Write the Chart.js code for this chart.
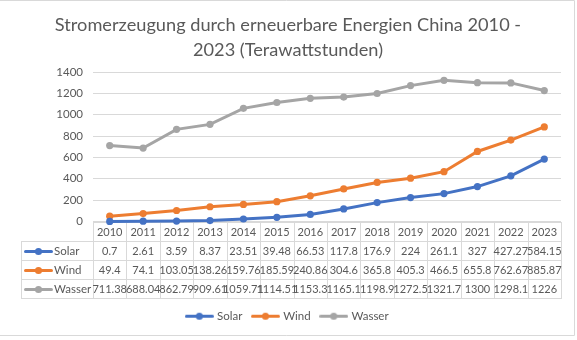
<!DOCTYPE html>
<html><head><meta charset="utf-8">
<script src="https://cdn.jsdelivr.net/npm/chart.js@4/dist/chart.umd.min.js"></script>
<style>html,body{margin:0;padding:0;background:#fff}#wrap{width:577px;height:340px;position:relative}</style>
</head><body><div id="wrap"><canvas id="c" width="577" height="340"></canvas></div>
<script>
const titleLines = ['Stromerzeugung durch erneuerbare Energien China 2010 -', '2023 (Terawattstunden)'];
const years = ['2010','2011','2012','2013','2014','2015','2016','2017','2018','2019','2020','2021','2022','2023'];
const solar = [0.7, 2.61, 3.59, 8.37, 23.51, 39.48, 66.53, 117.8, 176.9, 224, 261.1, 327, 427.27, 584.15];
const wind = [49.4, 74.1, 103.05, 138.26, 159.76, 185.59, 240.86, 304.6, 365.8, 405.3, 466.5, 655.8, 762.67, 885.87];
const wasser = [711.38, 688.04, 862.79, 909.61, 1059.71, 1114.51, 1153.3, 1165.1, 1198.9, 1272.5, 1321.7, 1300, 1298.1, 1226];
const seriesNames = ['Solar', 'Wind', 'Wasser'];
const yTicks = [0, 200, 400, 600, 800, 1000, 1200, 1400];

const colors = ['#4472C4', '#ED7D31', '#A5A5A5'];
const textColor = '#595959';
const gridColor = '#D9D9D9';
const FONT = 'Lato, "Open Sans", sans-serif';

function keyCanvas(color) {
  const c = document.createElement('canvas');
  c.width = 29; c.height = 9;
  const g = c.getContext('2d');
  g.strokeStyle = color; g.lineWidth = 3; g.lineCap = 'round';
  g.beginPath(); g.moveTo(1.5, 4.5); g.lineTo(27.5, 4.5); g.stroke();
  g.fillStyle = color;
  g.beginPath(); g.arc(14.5, 4.5, 3.6, 0, Math.PI * 2); g.fill();
  return c;
}
const keys = colors.map(keyCanvas);

const ROW_H = 19;
const TABLE_LEFT = 21;

const tablePlugin = {
  id: 'dataTable',
  beforeDatasetsDraw(chart) {
    const ctx = chart.ctx;
    const {left, right, bottom} = chart.chartArea;
    const xs = chart.scales.x;
    const n = years.length;
    const cw = (right - left) / n;
    const r = v => Math.round(v) + 0.5;
    const b = Math.round(bottom);
    ctx.save();
    ctx.strokeStyle = gridColor; ctx.lineWidth = 1;
    ctx.beginPath();
    ctx.moveTo(left, b + 0.5); ctx.lineTo(right, b + 0.5);
    for (let k = 1; k <= 4; k++) { ctx.moveTo(TABLE_LEFT, b + k * ROW_H + 0.5); ctx.lineTo(right, b + k * ROW_H + 0.5); }
    for (let i = 0; i <= n; i++) { const xx = r(left + i * cw); ctx.moveTo(xx, b); ctx.lineTo(xx, b + 4 * ROW_H + 1); }
    ctx.moveTo(r(TABLE_LEFT), b + ROW_H); ctx.lineTo(r(TABLE_LEFT), b + 4 * ROW_H + 1);
    ctx.stroke();
    ctx.fillStyle = textColor;
    ctx.font = '11px ' + FONT;
    ctx.textAlign = 'center'; ctx.textBaseline = 'middle';
    years.forEach((y, i) => ctx.fillText(y, xs.getPixelForValue(i), b + ROW_H / 2 + 1));
    chart.data.datasets.forEach((ds, j) => {
      const cy = b + (j + 1.5) * ROW_H + 1;
      ds.data.forEach((v, i) => ctx.fillText(String(v), xs.getPixelForValue(i), cy));
      ctx.drawImage(keys[j], 24, Math.round(cy - 5));
    });
    ctx.font = '11.5px ' + FONT;
    ctx.textAlign = 'left';
    chart.data.datasets.forEach((ds, j) => {
      const cy = b + (j + 1.5) * ROW_H + 1;
      ctx.fillText(ds.label, 54, cy);
    });
    ctx.restore();
  },
  afterDraw(chart) {
    const ctx = chart.ctx;
    ctx.save();
    ctx.strokeStyle = gridColor; ctx.lineWidth = 1;
    ctx.beginPath();
    ctx.moveTo(-1, 0.5); ctx.lineTo(574.5, 0.5); ctx.lineTo(574.5, 335.5); ctx.lineTo(-1, 335.5);
    ctx.stroke();
    ctx.restore();
  }
};

const seriesData = [solar, wind, wasser];
new Chart(document.getElementById('c'), {
  type: 'line',
  data: {
    labels: years,
    datasets: seriesNames.map((name, j) => ({
      label: name,
      data: seriesData[j],
      borderColor: colors[j],
      backgroundColor: colors[j],
      pointBackgroundColor: colors[j],
      pointBorderColor: colors[j],
      borderWidth: 3,
      pointRadius: 3.6,
      pointBorderWidth: 0,
      tension: 0,
      clip: false
    }))
  },
  options: {
    responsive: false,
    animation: false,
    devicePixelRatio: 1,
    layout: { padding: { left: 15, right: 16, top: 0, bottom: 8 } },
    plugins: {
      title: {
        display: true,
        text: titleLines,
        color: textColor,
        font: { family: FONT, size: 18.2, weight: 'normal', lineHeight: 1.36 },
        padding: { top: 13, bottom: 9.5 }
      },
      legend: {
        position: 'bottom',
        labels: {
          usePointStyle: true,
          pointStyleWidth: 24,
          color: textColor,
          font: { family: FONT, size: 11.5 },
          padding: 11,
          generateLabels: (chart) => chart.data.datasets.map((ds, j) => ({
            text: ds.label, fillStyle: colors[j], strokeStyle: colors[j], pointStyle: keys[j],
            fontColor: textColor, hidden: false, datasetIndex: j, lineWidth: 0
          }))
        }
      },
      tooltip: { enabled: false }
    },
    scales: {
      x: {
        type: 'category',
        offset: true,
        grid: { display: false },
        border: { display: false },
        ticks: { display: false },
        afterFit: (s) => { s.height = 4 * ROW_H + 2; }
      },
      y: {
        min: yTicks[0],
        max: yTicks[yTicks.length - 1],
        afterBuildTicks: (s) => { s.ticks = yTicks.map(v => ({ value: v })); },
        grid: { color: gridColor, drawTicks: false },
        border: { display: false },
        ticks: { color: textColor, font: { family: FONT, size: 11.5 }, padding: 10, callback: (v) => String(v) },
        afterFit: (s) => { s.width = 78; }
      }
    }
  },
  plugins: [tablePlugin]
});
</script>
</body></html>
